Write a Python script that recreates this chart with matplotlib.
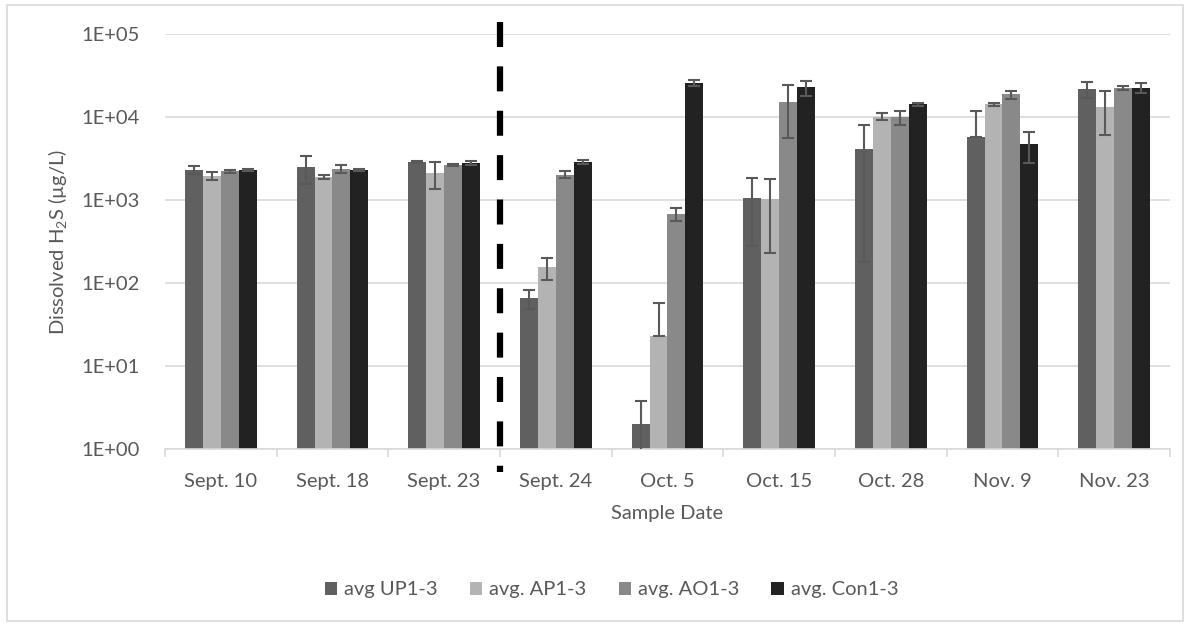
import numpy as np
import matplotlib
matplotlib.use('Agg')
from matplotlib import pyplot as plt
from matplotlib import transforms
from matplotlib.patches import Rectangle

plt.rcParams['font.family'] = ['Lato', 'DejaVu Sans']
plt.rcParams['mathtext.fontset'] = 'custom'
plt.rcParams['mathtext.rm'] = 'Lato'
plt.rcParams['mathtext.it'] = 'Lato:italic'

# Data (log scale)
dates = ['Sept. 10', 'Sept. 18', 'Sept. 23', 'Sept. 24', 'Oct. 5',
         'Oct. 15', 'Oct. 28', 'Nov. 9', 'Nov. 23']
series = ['avg UP1-3', 'avg. AP1-3', 'avg. AO1-3', 'avg. Con1-3']

up_vals = [2300, 2480, 2870, 66, 2.0, 1057, 4080, 5790, 21500]
up_err = [250, 900, 100, 17, 1.8, 780, 3900, 5900, 4700]
ap_vals = [1950, 1915, 2100, 155, 23, 1020, 10100, 14200, 13200]
ap_err = [200, 100, 750, 46, 35, 790, 1000, 700, 7200]
ao_vals = [2230, 2360, 2640, 2020, 672, 15000, 9900, 18700, 22200]
ao_err = [100, 250, 100, 200, 120, 9400, 2000, 2000, 1200]
con_vals = [2290, 2290, 2770, 2845, 25900, 22800, 14350, 4730, 22400]
con_err = [50, 50, 150, 150, 2000, 4700, 600, 1900, 3000]

colors = ['#606060', '#b3b3b3', '#898989', '#222222']
text_col = '#595959'
grid_col = '#d9d9d9'
fs = 14.5

fig = plt.figure(figsize=(11.97, 6.25), dpi=100)
ax = fig.add_axes([0.1378, 0.2816, 0.8396, 0.664])

x = np.arange(len(dates))
width = 0.16
all_vals = [up_vals, ap_vals, ao_vals, con_vals]
all_errs = [up_err, ap_err, ao_err, con_err]
for i, (vals, errs) in enumerate(zip(all_vals, all_errs)):
    vals = np.array(vals, dtype=float)
    errs = np.array(errs, dtype=float)
    # lower error not shown where it would go below zero (log axis)
    lower = np.where(errs >= vals, 0, errs)
    pos = x + (i - 1.5) * width
    ax.bar(pos, vals, width, color=colors[i], label=series[i], zorder=2)
    ax.errorbar(pos, vals, yerr=[lower, errs], fmt='none', ecolor='#595959',
                elinewidth=1.5, capsize=4, capthick=1.5, zorder=3)

ax.set_yscale('log')
ax.set_ylim(1, 1e5)
ax.set_xlim(-0.5, len(dates) - 0.5)
ax.set_yticks([1, 10, 100, 1e3, 1e4, 1e5])
ax.set_yticklabels(['1E+00', '1E+01', '1E+02', '1E+03', '1E+04', '1E+05'])
ax.yaxis.set_minor_locator(matplotlib.ticker.NullLocator())
ax.set_xticks(x)
ax.set_xticklabels(dates)
ax.set_xticks(np.arange(len(dates) + 1) - 0.5, minor=True)
ax.tick_params(axis='x', which='major', length=0, pad=17, labelsize=fs, labelcolor=text_col)
ax.tick_params(axis='x', which='minor', length=6, color=grid_col, width=1.2)
ax.tick_params(axis='y', length=0, pad=18, labelsize=fs, labelcolor=text_col)
ax.grid(axis='y', color=grid_col, linewidth=1.2, zorder=0)
ax.set_axisbelow(True)
for s in ['top', 'right', 'left']:
    ax.spines[s].set_visible(False)
ax.spines['bottom'].set_color(grid_col)
ax.spines['bottom'].set_linewidth(1.2)

ax.set_xlabel('Sample Date', fontsize=fs, color=text_col, labelpad=11)
ax.set_ylabel('Dissolved H$_2$S (µg/L)', fontsize=fs, color=text_col, labelpad=9)

# dashed separator between Sept. 23 and Sept. 24
trans = transforms.blended_transform_factory(ax.transData, ax.transAxes)
ax.plot([2.5, 2.5], [1.03, -0.055], transform=trans, color='black',
        linewidth=4.5, linestyle=(0, (4, 3.1)), solid_capstyle='butt',
        dash_capstyle='butt', clip_on=False, zorder=4)

fig.legend(loc='center', bbox_to_anchor=(0.511, 0.056), ncol=4, frameon=False,
           fontsize=fs, handlelength=0.6, handleheight=0.6, columnspacing=1.6,
           handletextpad=0.35, labelcolor=text_col)

fig.patches.append(Rectangle((0.006, 0.006), 0.982, 0.986, transform=fig.transFigure,
                             fill=False, edgecolor=grid_col, linewidth=1.2))

fig.savefig('out.png', dpi=100)
